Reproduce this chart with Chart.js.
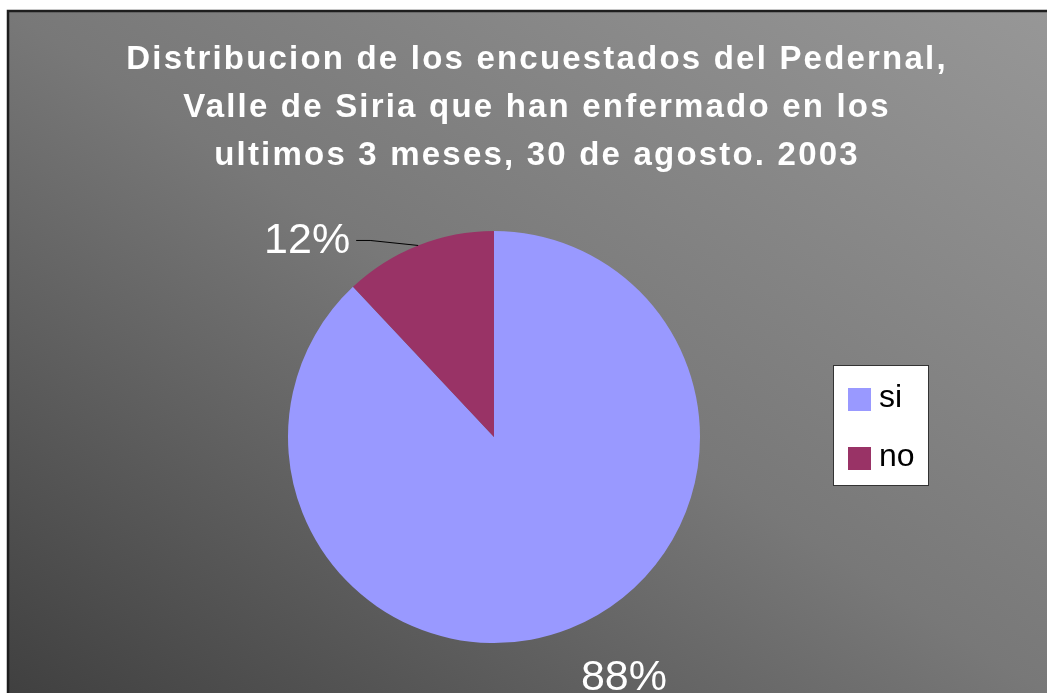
<!DOCTYPE html>
<html>
<head>
<meta charset="utf-8">
<script src="https://cdn.jsdelivr.net/npm/chart.js@4.4.1/dist/chart.umd.min.js"></script>
<style>
  html, body { margin: 0; padding: 0; background: #fff; }
  #wrap { width: 1047px; height: 693px; position: relative; }
</style>
</head>
<body>
<div id="wrap"><canvas id="chart"></canvas></div>
<script>
// data
const categories = ['si', 'no'];
const percentValues = [88, 12];
const sliceColors = ['#9999FF', '#993366'];
const titleLines = [
    'Distribucion de los encuestados del Pedernal,',
    'Valle de Siria que han enfermado en los',
    'ultimos 3 meses, 30 de agosto. 2003'
];

const FONT = '"Liberation Sans", Arial, sans-serif';

// gray gradient frame behind everything (diagonal, dark bottom-left)
const backdrop = {
    id: 'backdrop',
    beforeDraw(chart) {
        const ctx = chart.ctx;
        const w = chart.width, h = chart.height;
        const x0 = 8, y0 = 11;
        ctx.save();
        ctx.fillStyle = '#ffffff';
        ctx.fillRect(0, 0, w, h);
        ctx.save();
        ctx.translate(x0, y0);
        ctx.scale(w - x0, h - y0);
        const g = ctx.createLinearGradient(0, 1, 1, 0);
        g.addColorStop(0, '#404040');
        g.addColorStop(0.5, '#787878');
        g.addColorStop(1, '#979797');
        ctx.fillStyle = g;
        ctx.fillRect(0, 0, 1.01, 1.01);
        ctx.restore();
        ctx.strokeStyle = '#1e1e1e';
        ctx.lineWidth = 2.5;
        ctx.beginPath();
        ctx.moveTo(x0, h + 5);
        ctx.lineTo(x0, y0);
        ctx.lineTo(w + 5, y0);
        ctx.stroke();
        ctx.restore();
    }
};

const titleText = {
    id: 'titleText',
    afterDraw(chart) {
        const ctx = chart.ctx;
        ctx.save();
        ctx.fillStyle = '#ffffff';
        ctx.font = 'bold 33px ' + FONT;
        ctx.letterSpacing = '2.2px';
        ctx.textAlign = 'center';
        ctx.textBaseline = 'alphabetic';
        titleLines.forEach((line, i) => {
            ctx.fillText(line, 537, 69 + i * 48);
        });
        ctx.restore();
    }
};

// percentage labels, the small slice gets a leader line
const sliceLabels = {
    id: 'sliceLabels',
    afterDatasetsDraw(chart) {
        const ctx = chart.ctx;
        const meta = chart.getDatasetMeta(0);
        ctx.save();
        ctx.font = '43px ' + FONT;
        ctx.fillStyle = '#ffffff';
        meta.data.forEach((arc, i) => {
            const p = arc.getProps(['x', 'y', 'startAngle', 'endAngle', 'outerRadius'], true);
            const mid = (p.startAngle + p.endAngle) / 2;
            const cx = Math.cos(mid), cy = Math.sin(mid);
            const txt = percentValues[i] + '%';
            if (percentValues[i] < 20) {
                const ex = p.x + cx * p.outerRadius, ey = p.y + cy * p.outerRadius;
                const kx = ex - 48, ky = ey - 5;
                ctx.strokeStyle = '#000000';
                ctx.lineWidth = 1;
                ctx.beginPath();
                ctx.moveTo(ex, ey);
                ctx.lineTo(kx, ky);
                ctx.lineTo(kx - 14, ky);
                ctx.stroke();
                ctx.textAlign = 'right';
                ctx.textBaseline = 'middle';
                ctx.fillText(txt, kx - 20, ky + 1);
            } else {
                const ax = p.x + cx * (p.outerRadius + 30);
                const ay = p.y + cy * (p.outerRadius + 30);
                ctx.textAlign = cx >= 0 ? 'left' : 'right';
                ctx.textBaseline = cy >= 0 ? 'top' : 'bottom';
                ctx.fillText(txt, ax, ay);
            }
        });
        ctx.restore();
    }
};

// boxed legend on the right
const boxLegend = {
    id: 'boxLegend',
    afterDraw(chart) {
        const ctx = chart.ctx;
        const bx = 833.5, by = 365.5, bw = 95, bh = 120;
        ctx.save();
        ctx.fillStyle = '#ffffff';
        ctx.fillRect(bx, by, bw, bh);
        ctx.strokeStyle = '#333333';
        ctx.lineWidth = 1;
        ctx.strokeRect(bx, by, bw, bh);
        ctx.font = '32px ' + FONT;
        ctx.textAlign = 'left';
        ctx.textBaseline = 'alphabetic';
        categories.forEach((c, i) => {
            const y = 388 + i * 59;
            ctx.fillStyle = sliceColors[i];
            ctx.fillRect(848, y, 23, 23);
            ctx.fillStyle = '#000000';
            ctx.fillText(c, 879, y + 19);
        });
        ctx.restore();
    }
};

new Chart(document.getElementById('chart'), {
    type: 'pie',
    data: {
        labels: categories,
        datasets: [{
            data: percentValues,
            backgroundColor: sliceColors,
            borderWidth: 0,
            hoverOffset: 0
        }]
    },
    options: {
        responsive: true,
        maintainAspectRatio: false,
        animation: false,
        layout: {
            padding: { left: 288, right: 347, top: 231, bottom: 50 }
        },
        plugins: {
            legend: { display: false },
            title: { display: false },
            tooltip: { enabled: false }
        }
    },
    plugins: [backdrop, titleText, sliceLabels, boxLegend]
});
</script>
</body>
</html>
